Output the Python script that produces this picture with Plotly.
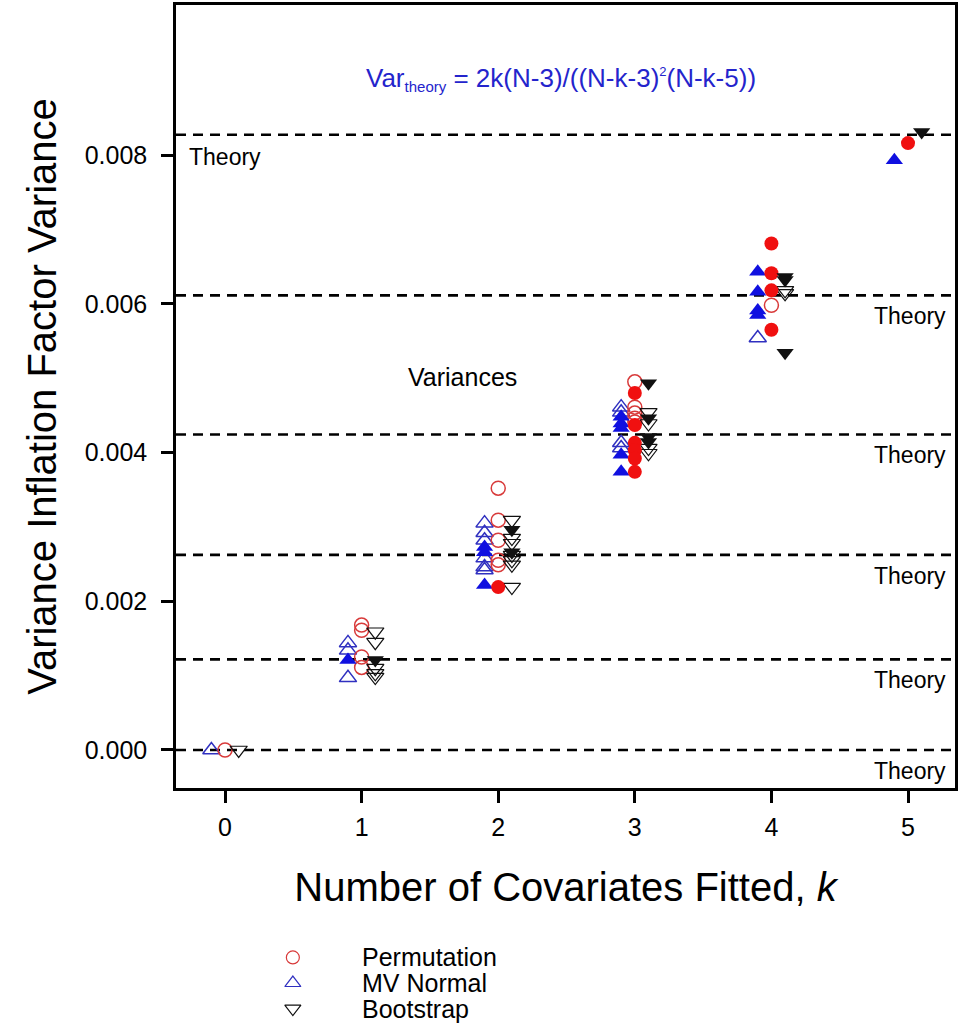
import plotly.graph_objects as go

# Number of covariates fitted
k_values = [0, 1, 2, 3, 4, 5]
tick_labels = ["0", "1", "2", "3", "4", "5"]

# Theoretical variance of the variance inflation factor for each k (N = 46)
theory_var = [0.0, 0.001219, 0.002624, 0.004243, 0.006113, 0.008272]

# Permutation replicates
perm_open_k = [0, 1, 1, 1, 1, 2, 2, 2, 2, 2, 3, 3, 3, 3, 3, 4]
perm_open_v = [0.0, 0.00168, 0.00161, 0.00125, 0.00111,
               0.00352, 0.00309, 0.00282, 0.00255, 0.00249,
               0.00495, 0.00461, 0.00453, 0.00446, 0.00441, 0.00598]
perm_fill_k = [2, 3, 3, 3, 3, 3, 3, 4, 4, 4, 4, 5]
perm_fill_v = [0.00219, 0.00480, 0.00437, 0.00413, 0.00403, 0.00392, 0.00374,
               0.00681, 0.00641, 0.00618, 0.00565, 0.00816]

# Multivariate normal replicates
mvn_open_k = [0, 1, 1, 1, 2, 2, 2, 2, 2, 2, 3, 3, 3, 3, 4]
mvn_open_v = [0.0, 0.00144, 0.00134, 0.00097,
              0.00305, 0.00292, 0.00282, 0.00258, 0.00246, 0.00242,
              0.00461, 0.00454, 0.00413, 0.00406, 0.00554]
mvn_fill_k = [1, 2, 2, 2, 3, 3, 3, 3, 3, 4, 4, 4, 4, 5]
mvn_fill_v = [0.00121, 0.00273, 0.00266, 0.00222,
              0.00448, 0.00439, 0.00433, 0.00397, 0.00374,
              0.00643, 0.00616, 0.00591, 0.00585, 0.00793]

# Bootstrap replicates
boot_open_k = [0, 1, 1, 1, 1, 1, 2, 2, 2, 2, 2, 2, 2, 3, 3, 3, 3, 4, 4]
boot_open_v = [0.0, 0.00159, 0.00145, 0.00110, 0.00103, 0.00098,
               0.00309, 0.00285, 0.00278, 0.00262, 0.00255, 0.00249, 0.00219,
               0.00454, 0.00439, 0.00406, 0.00399, 0.00618, 0.00614]
boot_fill_k = [1, 2, 2, 3, 3, 3, 3, 4, 4, 4, 5]
boot_fill_v = [0.00121, 0.00296, 0.00266,
               0.00493, 0.00446, 0.00421, 0.00414,
               0.00636, 0.00632, 0.00534, 0.00831]

legend_names = ["Permutation", "MV Normal", "Bootstrap"]

FONT = "Liberation Sans, Arial, sans-serif"
RED_OPEN, RED_FILL = "#d83a3a", "#f01010"
BLUE_OPEN, BLUE_FILL = "#3030c0", "#1010e0"
BLACK = "#111111"
OFFSET = 0.1  # horizontal separation of the three methods around each k
CIRCLE_SIZE = 14
TRI_SIZE = 15

fig = go.Figure()


def shift(ks, d):
    return [k + d for k in ks]


def add(xs, ys, symbol, color, size, width=1.5):
    fig.add_trace(go.Scatter(
        x=xs, y=ys, mode="markers", showlegend=False, hoverinfo="skip",
        marker=dict(symbol=symbol, size=size, color=color,
                    line=dict(color=color, width=width)),
    ))


# open replicates
add(shift(mvn_open_k, -OFFSET), mvn_open_v, "triangle-up-open", BLUE_OPEN, TRI_SIZE)
add(perm_open_k, perm_open_v, "circle-open", RED_OPEN, CIRCLE_SIZE)
add(shift(boot_open_k, OFFSET), boot_open_v, "triangle-down-open", BLACK, TRI_SIZE, 1.2)
# filled replicates
add(shift(mvn_fill_k, -OFFSET), mvn_fill_v, "triangle-up", BLUE_FILL, TRI_SIZE, 0)
add(perm_fill_k, perm_fill_v, "circle", RED_FILL, CIRCLE_SIZE, 0)
add(shift(boot_fill_k, OFFSET), boot_fill_v, "triangle-down", BLACK, TRI_SIZE, 0)

# Theory reference lines
for v in theory_var:
    fig.add_shape(type="line", xref="paper", x0=0, x1=1, yref="y", y0=v, y1=v,
                  line=dict(color="black", width=2.6, dash="10px,7px"), layer="below")

annotations = []
for i, v in enumerate(theory_var):
    if i == len(theory_var) - 1:
        annotations.append(dict(x=0.014, xref="paper", xanchor="left", y=v, yref="y",
                                yshift=-22, text="Theory", showarrow=False,
                                font=dict(size=23, color="black", family=FONT)))
    else:
        annotations.append(dict(x=0.991, xref="paper", xanchor="right", y=v, yref="y",
                                yshift=-21, text="Theory", showarrow=False,
                                font=dict(size=23, color="black", family=FONT)))

annotations.append(dict(x=1.735, xref="x", y=0.005015, yref="y", text="Variances",
                        showarrow=False, font=dict(size=25, color="black", family=FONT)))
annotations.append(dict(
    x=0.494, xref="paper", y=0.00902, yref="y", showarrow=False,
    text=("Var<sub><span style='font-size:15px'>theory</span></sub> = 2k(N-3)/((N-k-3)"
          "<sup><span style='font-size:13px'>2</span></sup>(N-k-5))"),
    font=dict(size=26, color="#2424cc", family=FONT)))

# Legend block below the axis
legend_symbols = ["circle-open", "triangle-up-open", "triangle-down-open"]
legend_colors = [RED_OPEN, BLUE_OPEN, BLACK]
legend_sizes = [CIRCLE_SIZE, TRI_SIZE, TRI_SIZE]
for row, (name, sym, col, sz) in enumerate(
        zip(legend_names, legend_symbols, legend_colors, legend_sizes), start=1):
    fig.add_trace(go.Scatter(
        x=[0.150], y=[row], xaxis="x2", yaxis="y2", mode="markers",
        showlegend=False, hoverinfo="skip",
        marker=dict(symbol=sym, size=sz - 1, color=col, line=dict(color=col, width=1.2)),
    ))
    annotations.append(dict(x=0.236, xref="x2", xanchor="left", y=row, yref="y2",
                            text=name, showarrow=False,
                            font=dict(size=25, color="black", family=FONT)))

axis_common = dict(
    showline=True, linewidth=2.5, linecolor="black", mirror=True,
    ticks="outside", ticklen=12, tickwidth=2.5, tickcolor="black",
    showgrid=False, zeroline=False,
    tickfont=dict(size=25, color="black", family=FONT),
)

fig.update_layout(
    width=960, height=1024,
    margin=dict(l=176, r=5, t=5, b=0),
    paper_bgcolor="white", plot_bgcolor="white",
    font=dict(family=FONT, color="black"),
    showlegend=False,
    xaxis=dict(
        **axis_common, range=[-0.359, 5.344],
        tickvals=k_values, ticktext=tick_labels, ticklabelstandoff=3,
        title=dict(text="Number of Covariates Fitted, <i>k</i>",
                   font=dict(size=40, color="black", family=FONT), standoff=34),
    ),
    yaxis=dict(
        **axis_common, domain=[0.2316, 1], range=[-0.000511, 0.010017],
        tickvals=[0, 0.002, 0.004, 0.006, 0.008],
        ticktext=["0.000", "0.002", "0.004", "0.006", "0.008"],
        ticklabelstandoff=9,
        title=dict(text="Variance Inflation Factor Variance",
                   font=dict(size=40, color="black", family=FONT), standoff=16),
    ),
    xaxis2=dict(domain=[0, 1], range=[0, 1], visible=False, anchor="y2"),
    yaxis2=dict(domain=[0, 0.0905], range=[3.6, 0], visible=False, anchor="x2"),
    annotations=annotations,
)

fig.write_html("out.html")
